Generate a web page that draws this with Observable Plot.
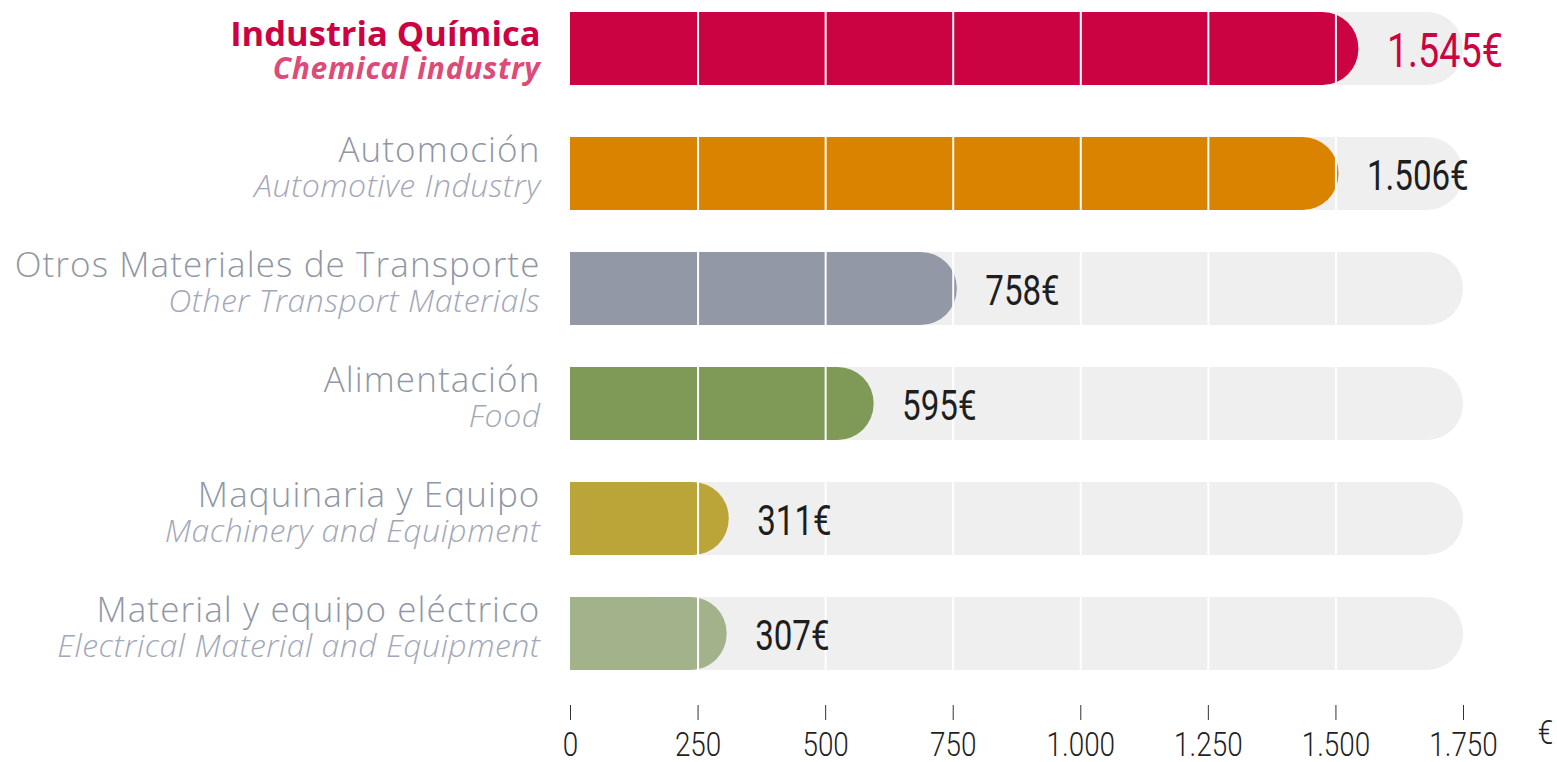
<!DOCTYPE html>
<html>
<head>
<meta charset="utf-8">
<script src="https://cdn.jsdelivr.net/npm/d3@7"></script>
<script src="https://cdn.jsdelivr.net/npm/@observablehq/plot@0.6"></script>
<style>
  html, body { margin: 0; padding: 0; background: #ffffff; }
  #chart svg { display: block; }
</style>
</head>
<body>
<div id="chart"></div>
<script>
// ---- Data ----
const categoriesES = [
  "Industria Química",
  "Automoción",
  "Otros Materiales de Transporte",
  "Alimentación",
  "Maquinaria y Equipo",
  "Material y equipo eléctrico"
];
const categoriesEN = [
  "Chemical industry",
  "Automotive Industry",
  "Other Transport Materials",
  "Food",
  "Machinery and Equipment",
  "Electrical Material and Equipment"
];
const values = [1545, 1506, 758, 595, 311, 307];
const barColors = ["#cc0342", "#d98300", "#9298a6", "#7e9a56", "#bba438", "#a2b38b"];
const xTicks = [0, 250, 500, 750, 1000, 1250, 1500, 1750];
const gridTicks = [250, 500, 750, 1000, 1250, 1500];
const xMax = 1750;
const unitLabel = "€";

// ---- Build table ----
const data = categoriesES.map((es, i) => ({
  es, en: categoriesEN[i], value: values[i], color: barColors[i], highlight: i === 0
}));
const hi = data.filter(d => d.highlight);
const rest = data.filter(d => !d.highlight);
const gridOf = rows => rows.flatMap(d => gridTicks.map(t => ({es: d.es, x: t})));

const locale = d3.formatLocale({decimal: ",", thousands: ".", grouping: [3], currency: ["", "€"]});
const fmt = locale.format(",");

const R = 36;
const labelFont = "'Open Sans', Lato, sans-serif";

// bars + gridlines + value labels for a subset of rows, shifted by dy
function rowMarks(rows, dy) {
  return [
    Plot.barX(rows, {y: "es", x1: 0, x2: () => xMax, fill: "#efefef", rx: R, ry: R, dy}),
    Plot.barX(rows, {y: "es", x1: 0, x2: () => xMax / 2, fill: "#efefef", dy}),
    Plot.barX(rows, {y: "es", x1: 0, x2: "value", fill: d => d.color, rx: R, ry: R, dy}),
    Plot.barX(rows, {y: "es", x1: 0, x2: d => d.value / 2, fill: d => d.color, dy}),
    Plot.tickX(gridOf(rows), {x: "x", y: "es", stroke: "#ffffff", strokeWidth: 2, dy}),
    Plot.text(rows, {
      y: "es", x: "value", text: d => fmt(d.value) + unitLabel, textAnchor: "start", dx: 28, dy: dy + 2,
      fontSize: d => d.highlight ? 49 : 43, fontFamily: "Roboto", fontWeight: 400,
      fill: d => d.highlight ? "#cc0342" : "#1e1e1e"
    })
  ];
}

const plot = Plot.plot({
  width: 1557,
  height: 762,
  marginLeft: 570,
  marginRight: 94,
  marginTop: 22,
  marginBottom: 57,
  style: {background: "#ffffff", overflow: "visible"},
  x: {domain: [0, xMax], axis: null},
  y: {domain: categoriesES, axis: null, paddingInner: 0.365, paddingOuter: 0, insetBottom: 35, round: false},
  color: {type: "identity"},
  marks: [
    ...rowMarks(hi, -10),
    ...rowMarks(rest, 0),
    // x axis
    Plot.axisX(xTicks, {
      anchor: "bottom", tickSize: 15, tickPadding: 11, stroke: "#333333", strokeWidth: 1,
      tickFormat: fmt, fontSize: 34, fontFamily: "Roboto", fontWeight: 300, fill: "#222222",
      label: null
    }),
    Plot.text([unitLabel], {
      frameAnchor: "bottom-right", text: d => d, dx: 82, dy: 38, textAnchor: "middle",
      fontSize: 34, fontFamily: "Roboto", fontWeight: 300, fill: "#222222"
    }),
    // two-line category labels (Spanish / English)
    Plot.text(data, {
      y: "es", frameAnchor: "left", text: d => d.es + "\n" + d.en, textAnchor: "end", dx: -30,
      fontSize: 34, fontFamily: labelFont, fill: "#9097a5"
    })
  ]
});

// condense numeric labels horizontally
function condense(t, k) {
  let tr = t.getAttribute("transform");
  if (!tr) {
    const x = t.getAttribute("x") || 0, y = t.getAttribute("y") || 0;
    t.removeAttribute("x"); t.removeAttribute("y");
    tr = `translate(${x},${y})`;
  }
  t.setAttribute("transform", tr + ` scale(${k},1)`);
}
// styles of the two label lines (baseline offsets from band centre, px)
const lineStyle = {
  hiES:   {y: -13.5, size: 34.5, weight: 700, style: "normal", fill: "#cc0342", ls: 0},
  hiEN:   {y: 19.5,  size: 30,   weight: 700, style: "italic", fill: "#dd4b78", ls: 0.7},
  restES: {y: -12,   size: 35,   weight: 300, style: "normal", fill: "#9097a5", ls: 1.1},
  restEN: {y: 23,    size: 32,   weight: 300, style: "italic", fill: "#a3a8b8", ls: 0.5}
};
function styleSpan(sp, st) {
  sp.setAttribute("y", st.y);
  sp.removeAttribute("dy");
  sp.style.fontSize = st.size + "px";
  sp.style.fontWeight = st.weight;
  sp.style.fontStyle = st.style;
  sp.style.fill = st.fill;
  sp.style.letterSpacing = st.ls + "px";
}
plot.querySelectorAll("text").forEach(t => {
  const spans = t.querySelectorAll("tspan");
  if (spans.length === 2 && categoriesES.includes(spans[0].textContent)) {
    t.setAttribute("dy", 0);
    t.removeAttribute("y");
    const isHi = spans[0].textContent === categoriesES[0];
    styleSpan(spans[0], isHi ? lineStyle.hiES : lineStyle.restES);
    styleSpan(spans[1], isHi ? lineStyle.hiEN : lineStyle.restEN);
    return;
  }
  const s = t.textContent.trim();
  if (/^[\d.]+€$/.test(s)) condense(t, 0.77);
  else if (/^[\d.]+$/.test(s) || s === "€") condense(t, 0.82);
});

document.getElementById("chart").appendChild(plot);
</script>
</body>
</html>
